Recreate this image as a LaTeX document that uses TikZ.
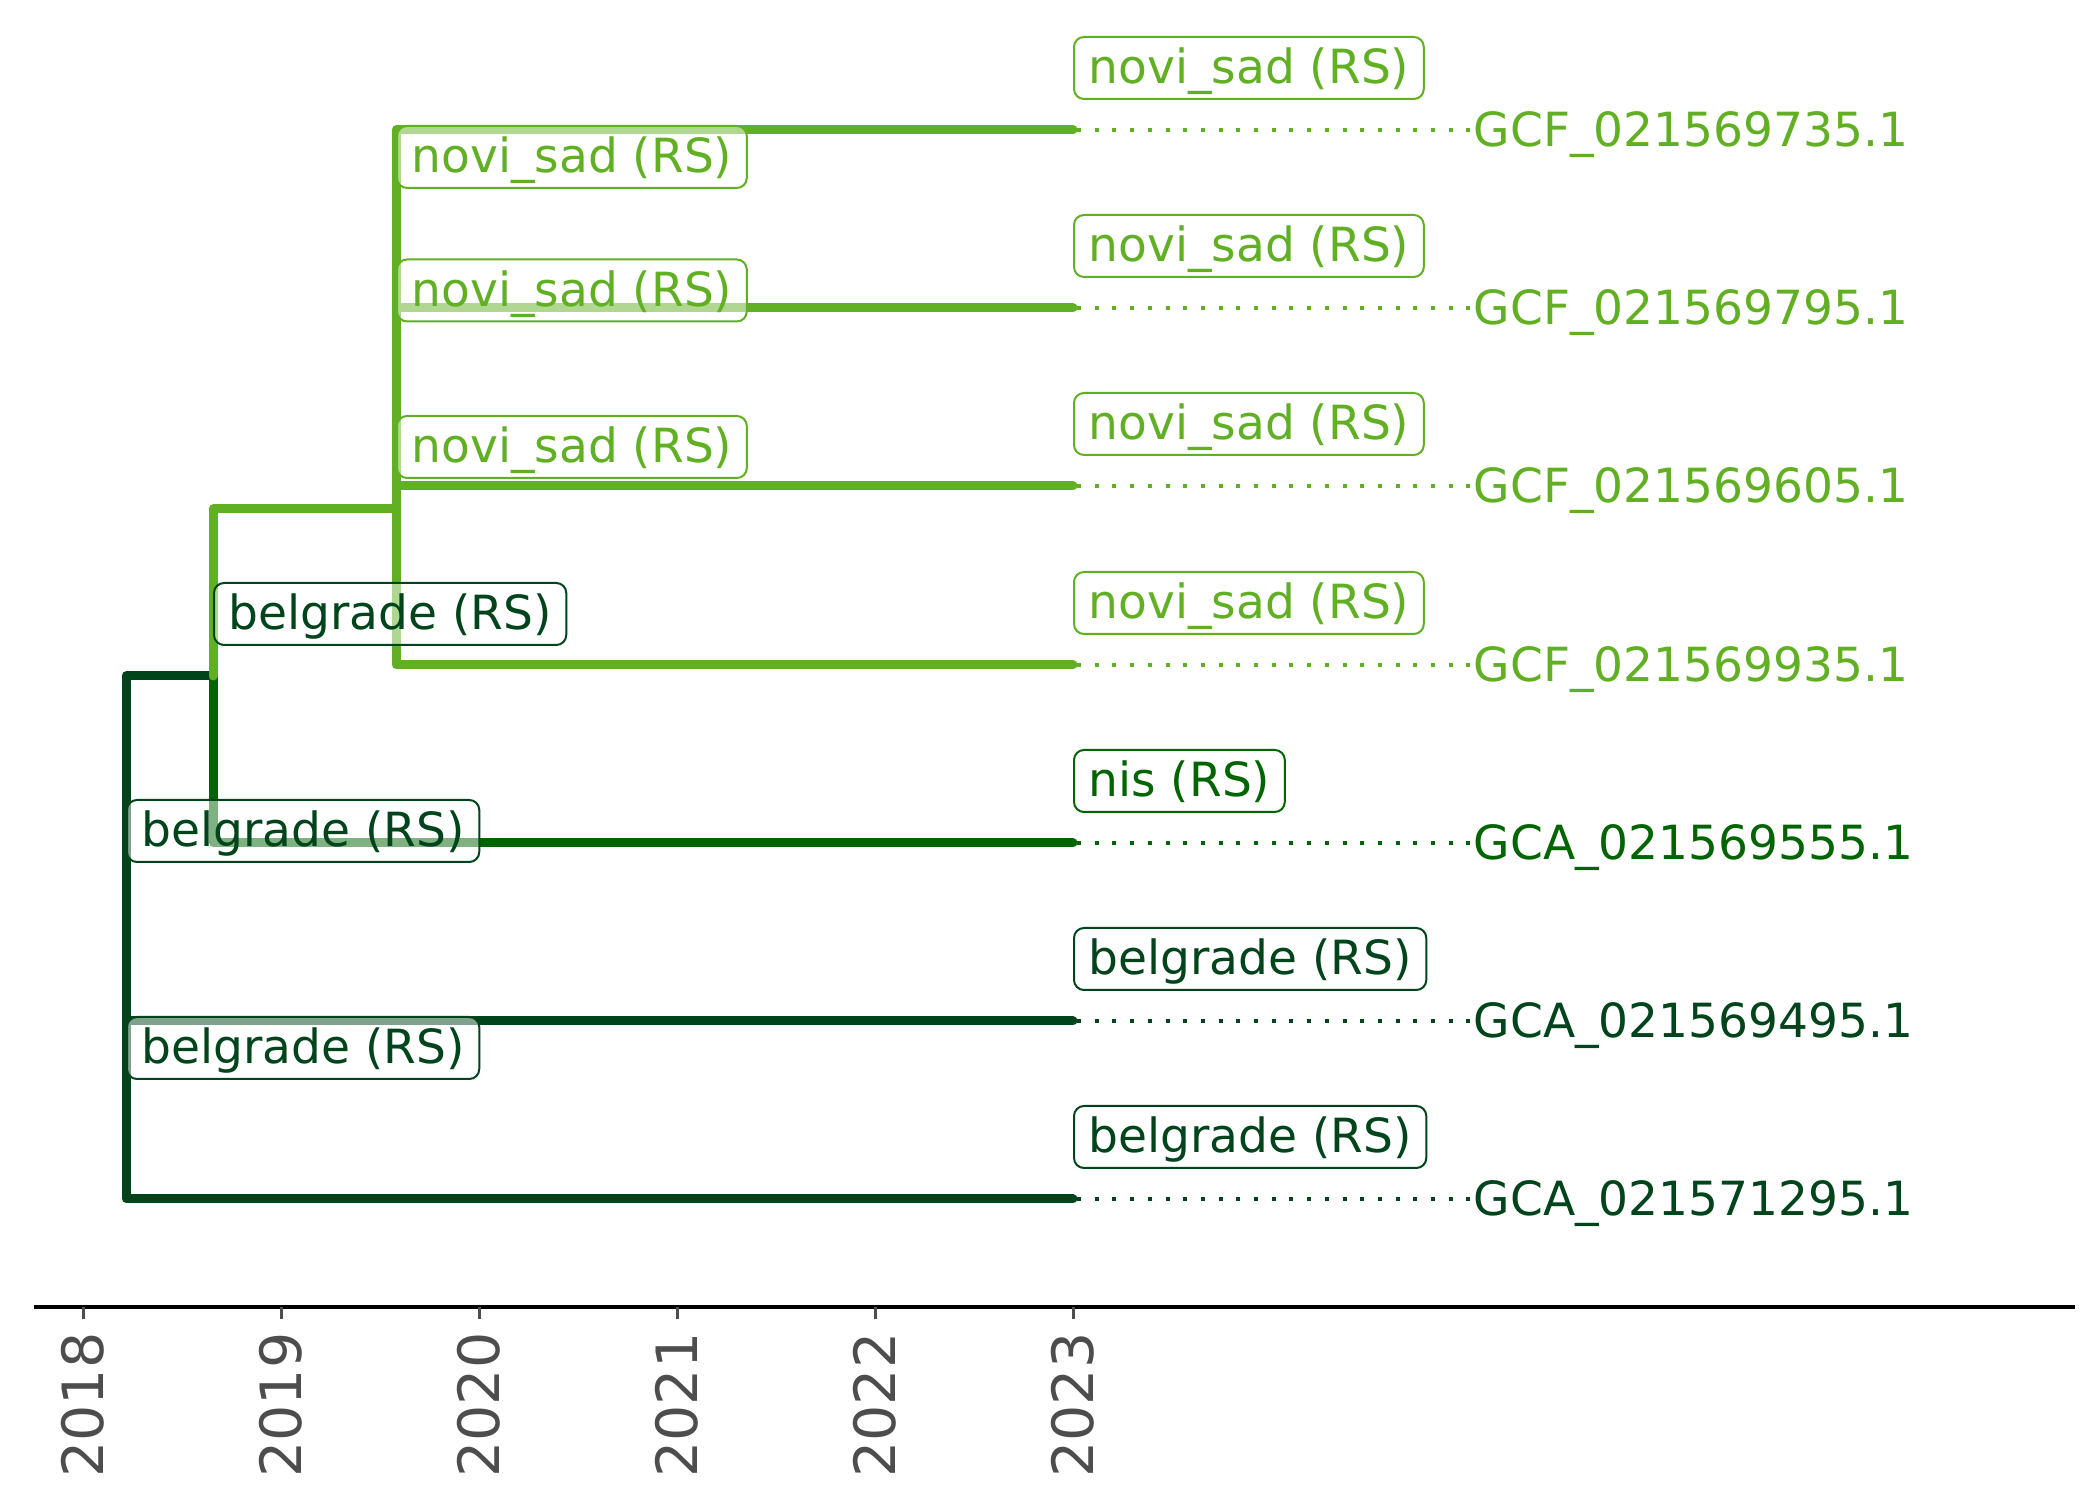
\documentclass[tikz,border=0pt]{standalone}
\usepackage{fontspec}
\setmainfont{DejaVu Sans}
\usepackage{tikz}
\usetikzlibrary{positioning}
\usepackage{xcolor}
\definecolor{nsgreen}{RGB}{97,176,36}
\definecolor{nisgreen}{RGB}{0,100,0}
\definecolor{bggreen}{RGB}{0,68,27}
\definecolor{tickgray}{RGB}{77,77,77}

\begin{document}
\begin{tikzpicture}[x=0.1mm,y=0.1mm,
  branch/.style={line width=0.9mm,line cap=round,line join=round,#1},
  tipline/.style={line width=0.4mm,dash pattern=on 0.4mm off 1.37mm,dash phase=1.37mm,#1},
  locbox/.style={draw=#1,text=#1,rounded corners=1mm,line width=0.2mm,fill=white,fill opacity=0.5,draw opacity=1,text opacity=1,inner xsep=1.45mm,inner ysep=0.4mm,text height=4.3mm,text depth=1.1mm,font=\fontsize{13.4pt}{16pt}\selectfont},
  tiplabel/.style={text=#1,anchor=base west,inner sep=0pt,font=\fontsize{13.4pt}{16pt}\selectfont},
  yearlabel/.style={text=tickgray,rotate=90,anchor=east,inner sep=0pt,font=\fontsize{16.2pt}{19pt}\selectfont}]
\useasboundingbox (0,0) rectangle (2100,1500);
% tips (2023) and internal nodes
\coordinate (t0) at (1073,1370);
\coordinate (t1) at (1073,1192);
\coordinate (t2) at (1073,1014);
\coordinate (t3) at (1073,835);
\coordinate (t4) at (1073,657);
\coordinate (t5) at (1073,479);
\coordinate (t6) at (1073,301);
\coordinate (n1) at (396,1281);
\coordinate (n2) at (396,1147.5);
\coordinate (n3) at (396,991);
\coordinate (n4) at (213,824);
\coordinate (nA) at (126,390);
\coordinate (nB) at (126,607);
% branches
\draw[branch=bggreen] (nB) |- (n4);
\draw[branch=bggreen] (nB) |- (nA);
\draw[branch=bggreen] (nA) |- (t5);
\draw[branch=bggreen] (nA) |- (t6);
\draw[branch=nisgreen] (n4) |- (t4);
\draw[branch=nsgreen] (n4) |- (n3);
\draw[branch=nsgreen] (n3) |- (n2);
\draw[branch=nsgreen] (n3) |- (t3);
\draw[branch=nsgreen] (n2) |- (n1);
\draw[branch=nsgreen] (n2) |- (t2);
\draw[branch=nsgreen] (n1) |- (t0);
\draw[branch=nsgreen] (n1) |- (t1);
% tip names
\node[tiplabel=nsgreen] (tip0) at (1473,1353) {GCF\_021569735.1};
\node[tiplabel=nsgreen] (tip1) at (1473,1175) {GCF\_021569795.1};
\node[tiplabel=nsgreen] (tip2) at (1473,997) {GCF\_021569605.1};
\node[tiplabel=nsgreen] (tip3) at (1473,818) {GCF\_021569935.1};
\node[tiplabel=nisgreen] (tip4) at (1473,640) {GCA\_021569555.1};
\node[tiplabel=bggreen] (tip5) at (1473,462) {GCA\_021569495.1};
\node[tiplabel=bggreen] (tip6) at (1473,284) {GCA\_021571295.1};
\draw[tipline=nsgreen] (t0) -- (t0 -| tip0.west);
\draw[tipline=nsgreen] (t1) -- (t1 -| tip1.west);
\draw[tipline=nsgreen] (t2) -- (t2 -| tip2.west);
\draw[tipline=nsgreen] (t3) -- (t3 -| tip3.west);
\draw[tipline=nisgreen] (t4) -- (t4 -| tip4.west);
\draw[tipline=bggreen] (t5) -- (t5 -| tip5.west);
\draw[tipline=bggreen] (t6) -- (t6 -| tip6.west);
% locations
\node[locbox=nsgreen,above right=3.0mm and 0mm of t0] (loc0) {novi\_sad (RS)};
\node[locbox=nsgreen,above right=3.0mm and 0mm of t1] (loc1) {novi\_sad (RS)};
\node[locbox=nsgreen,above right=3.0mm and 0mm of t2] (loc2) {novi\_sad (RS)};
\node[locbox=nsgreen,above right=3.0mm and 0mm of t3] (loc3) {novi\_sad (RS)};
\node[locbox=nisgreen,above right=3.0mm and 0mm of t4] (loc4) {nis (RS)};
\node[locbox=bggreen,above right=3.0mm and 0mm of t5] (loc5) {belgrade (RS)};
\node[locbox=bggreen,above right=3.0mm and 0mm of t6] (loc6) {belgrade (RS)};
\node[locbox=nsgreen,above right=3.0mm and 0mm of n1] (locn1) {novi\_sad (RS)};
\node[locbox=nsgreen,above right=3.0mm and 0mm of n2] (locn2) {novi\_sad (RS)};
\node[locbox=nsgreen,above right=3.0mm and 0mm of n3] (locn3) {novi\_sad (RS)};
\node[locbox=bggreen,above right=3.0mm and 0mm of n4] (locn4) {belgrade (RS)};
\node[locbox=bggreen,above right=3.0mm and 0mm of nB] (locnB) {belgrade (RS)};
\node[locbox=bggreen,above right=3.0mm and 0mm of nA] (locnA) {belgrade (RS)};
% time axis
\draw[line width=0.45mm] (34,193) -- (2075,193);
\foreach \yr [count=\i from 0] in {2018,2019,2020,2021,2022,2023} {
  \draw[tickgray,line width=0.3mm] (83+198*\i,193) -- (83+198*\i,181);
  \node[yearlabel] (yr\yr) at (83+198*\i,168) {\yr};
}
\end{tikzpicture}
\end{document}
